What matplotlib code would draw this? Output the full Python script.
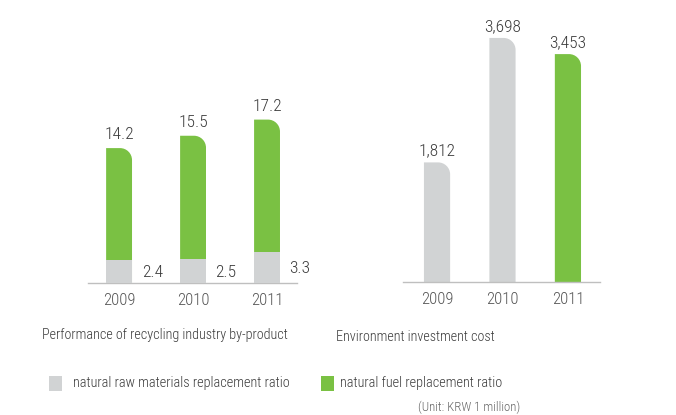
import matplotlib.pyplot as plt
from matplotlib.path import Path
from matplotlib.patches import PathPatch, Rectangle

# data
years = ['2009', '2010', '2011']
fuel_ratio = [14.2, 15.5, 17.2]        # natural fuel replacement ratio
raw_ratio = [2.4, 2.5, 3.3]            # natural raw materials replacement ratio
invest_cost = [1812, 3698, 3453]       # KRW 1 million
invest_is_green = [False, False, True]

GRAY = '#d1d3d4'
GREEN = '#7ac143'
TXT = '#3a3a3a'
plt.rcParams['font.family'] = ['Roboto Condensed', 'DejaVu Sans']
plt.rcParams['font.weight'] = 'light'

W, H = 676, 415
fig = plt.figure(figsize=(W / 100, H / 100), dpi=100)


def px_axes(x0, x1, y_top, y_base):
    # axes placed by pixel coords (top-left origin)
    return fig.add_axes([x0 / W, 1 - y_base / H, (x1 - x0) / W, (y_base - y_top) / H])


def round_bar(ax, x, width, bottom, top, color, r_px=12):
    # bar with only the top-right corner rounded
    bb = ax.get_window_extent()
    xl, yl = ax.get_xlim(), ax.get_ylim()
    rx = r_px * (xl[1] - xl[0]) / bb.width
    ry = r_px * (yl[1] - yl[0]) / bb.height
    rx = min(rx, width / 2)
    k = 0.5523
    x0, x1 = x - width / 2, x + width / 2
    verts = [(x0, bottom), (x0, top), (x1 - rx, top),
             (x1 - rx + k * rx, top), (x1, top - ry + k * ry), (x1, top - ry),
             (x1, bottom), (x0, bottom)]
    codes = [Path.MOVETO, Path.LINETO, Path.LINETO,
             Path.CURVE4, Path.CURVE4, Path.CURVE4,
             Path.LINETO, Path.CLOSEPOLY]
    ax.add_patch(PathPatch(Path(verts, codes), facecolor=color, edgecolor='none'))


def style(ax):
    for s in ['top', 'right', 'left']:
        ax.spines[s].set_visible(False)
    ax.spines['bottom'].set_color('#bfbfbf')
    ax.spines['bottom'].set_linewidth(1)
    ax.set_yticks([])
    ax.set_xticks(range(len(years)))
    ax.set_xticklabels(years, fontsize=12, color='#555555')
    ax.tick_params(axis='x', length=0, pad=7)
    ax.patch.set_alpha(0)


# left panel: recycling by-product
ax1 = px_axes(88, 297, 20, 283)
ax1.set_xlim(-0.42, 2.405)
ax1.set_ylim(0, 263 / 9.5)
style(ax1)
w1 = 0.35
for i, (f, r) in enumerate(zip(fuel_ratio, raw_ratio)):
    round_bar(ax1, i, w1, 0, f, GREEN)
    ax1.bar(i, r, width=w1, color=GRAY, zorder=3)
    ax1.text(i, f + 0.6, f'{f}', ha='center', va='bottom', fontsize=12.5, color=TXT)
    ax1.text(i + w1 / 2 + 0.13, r * 0.45, f'{r}', ha='left', va='center',
             fontsize=12.5, color=TXT)

# right panel: environment investment cost
ax2 = px_axes(403, 600, 20, 282)
ax2.set_xlim(-0.52, 2.49)
ax2.set_ylim(0, 262 / 0.066)
style(ax2)
w2 = 0.40
for i, (v, g) in enumerate(zip(invest_cost, invest_is_green)):
    round_bar(ax2, i, w2, 0, v, GREEN if g else GRAY)
    ax2.text(i, v + 60, f'{v:,}', ha='center', va='bottom', fontsize=12.5, color=TXT)

# panel titles
fig.text(165 / W, 1 - 335 / H, 'Performance of recycling industry by-product',
         ha='center', va='center', fontsize=10.2, color=TXT)
fig.text(415 / W, 1 - 337 / H, 'Environment investment cost',
         ha='center', va='center', fontsize=10.2, color=TXT)

# legend
fig.add_artist(Rectangle((49 / W, 1 - 391 / H), 13 / W, 15 / H,
                         transform=fig.transFigure, facecolor=GRAY, edgecolor='none'))
fig.text(73 / W, 1 - 383 / H, 'natural raw materials replacement ratio',
         ha='left', va='center', fontsize=10.3, color=TXT)
fig.add_artist(Rectangle((321 / W, 1 - 391 / H), 13 / W, 15 / H,
                         transform=fig.transFigure, facecolor=GREEN, edgecolor='none'))
fig.text(340 / W, 1 - 383 / H, 'natural fuel replacement ratio',
         ha='left', va='center', fontsize=10.3, color=TXT)
fig.text(520 / W, 1 - 407 / H, '(Unit: KRW 1 million)',
         ha='right', va='center', fontsize=9.3, color='#666666')

fig.savefig('out.png', dpi=100)
